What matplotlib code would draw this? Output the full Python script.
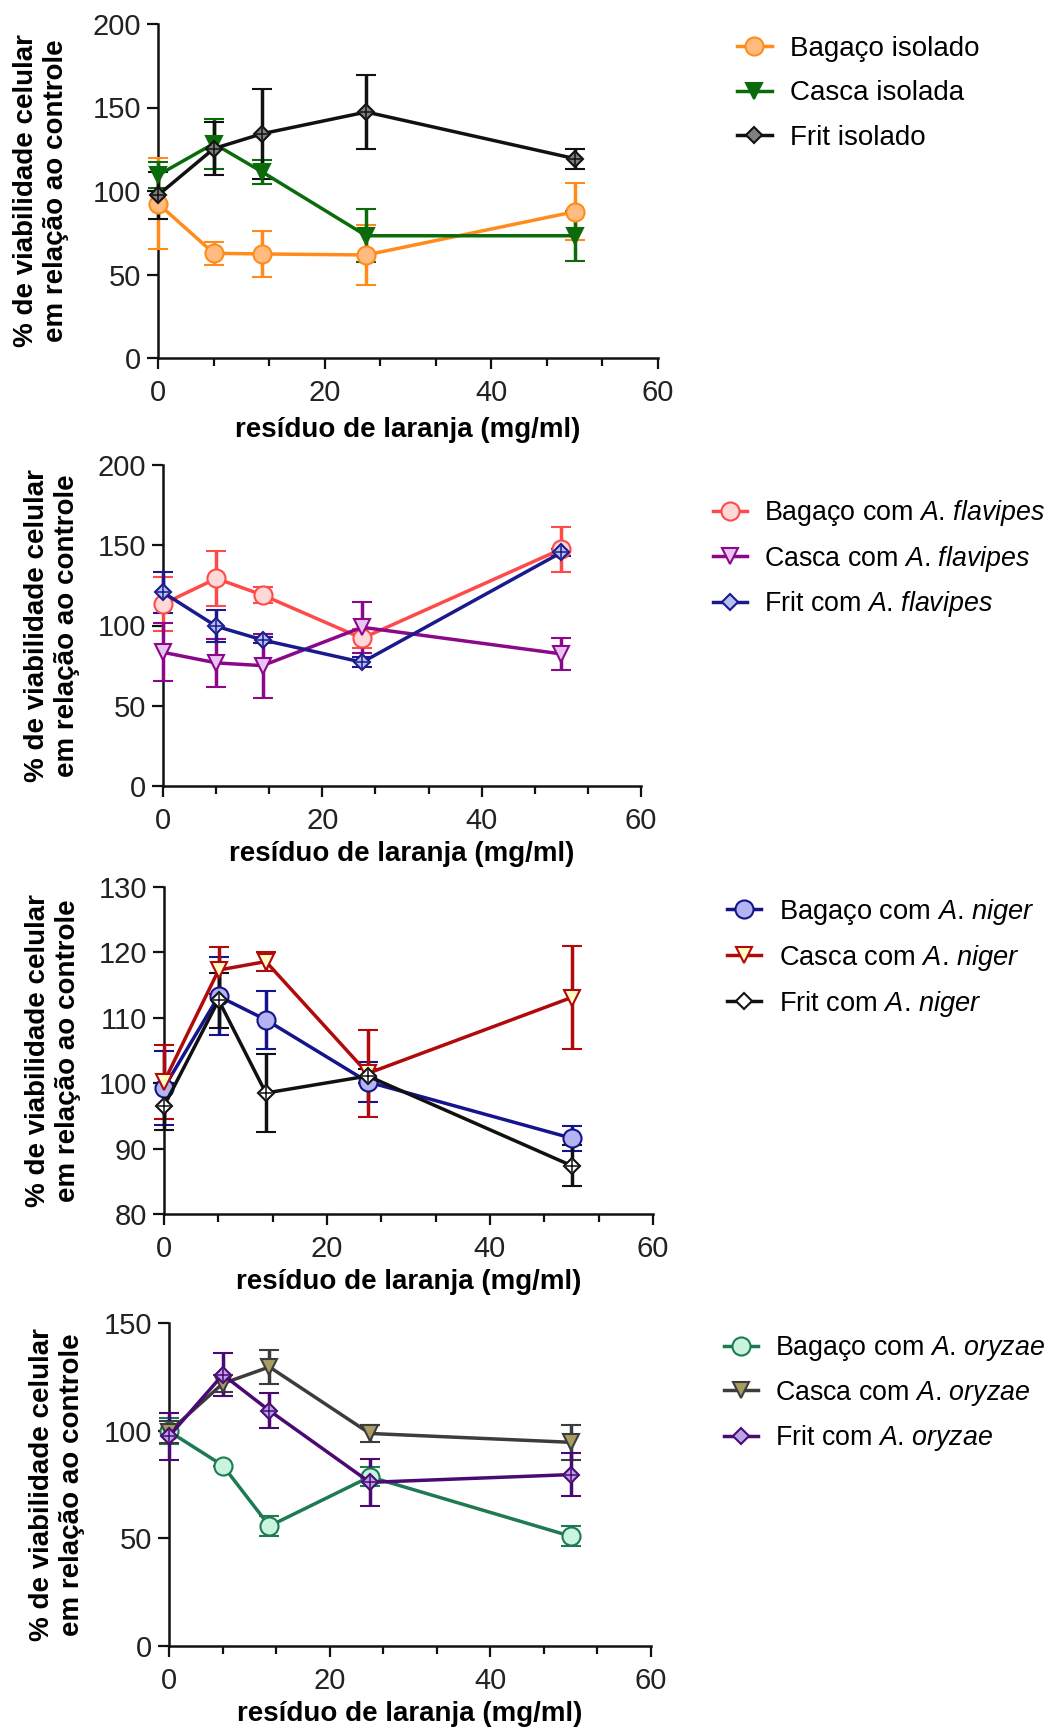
import matplotlib
matplotlib.use("Agg")
import matplotlib.pyplot as plt
from matplotlib.ticker import MultipleLocator
from matplotlib.lines import Line2D

plt.rcParams['font.family'] = ['Liberation Sans', 'DejaVu Sans']
plt.rcParams['mathtext.fontset'] = 'custom'
plt.rcParams['mathtext.rm'] = 'Liberation Sans'
plt.rcParams['mathtext.it'] = 'Liberation Sans:italic'

x = [0, 6.7, 12.5, 25, 50]

# Panel 1 - isolated
bag_iso = [92.5, 62.7, 62.3, 61.7, 87.6]
bag_iso_err = [27, 7, 14, 18, 17]
cas_iso = [109.5, 128.4, 111.4, 73.2, 73.2]
cas_iso_err = [8, 15, 7, 16, 15]
fri_iso = [97.5, 125.4, 134.3, 147.3, 119.4]
fri_iso_err = [14, 16, 27, 22, 6]

# Panel 2 - A. flavipes
bag_fla = [113.4, 129.3, 119.0, 92.0, 147.6]
bag_fla_err = [17, 17, 5, 6, 14]
cas_fla = [83.3, 76.7, 75.0, 98.9, 82.3]
cas_fla_err = [18, 15, 20, 16, 10]
fri_fla = [120.6, 99.5, 91.0, 77.1, 145.5]
fri_fla_err = [13, 10, 2, 3, 2]

# Panel 3 - A. niger
bag_nig = [99.3, 113.3, 109.7, 100.2, 91.6]
bag_nig_err = [5.7, 6, 4.4, 3, 1.9]
cas_nig = [100.2, 117.3, 118.6, 101.5, 113.1]
cas_nig_err = [5.6, 3.6, 1.5, 6.7, 7.9]
fri_nig = [96.5, 112.7, 98.5, 101.1, 87.4]
fri_nig_err = [3.6, 4.2, 6, 1, 3.1]

# Panel 4 - A. oryzae
bag_ory = [99.7, 83.8, 55.7, 78.6, 51.0]
bag_ory_err = [6, 0, 4.7, 4.5, 4.6]
cas_ory = [99.5, 121.9, 129.6, 98.7, 94.6]
cas_ory_err = [5, 4, 8, 4, 8]
fri_ory = [97.4, 126.0, 109.3, 76.0, 79.6]
fri_ory_err = [11, 10, 8, 11, 10]

xlabel = "resíduo de laranja (mg/ml)"
ylabel = "% de viabilidade celular\nem relação ao controle"

W, H = 1051, 1729
fig = plt.figure(figsize=(W / 100, H / 100), dpi=100)

def rect(l, r, t, b):
    return [l / W, 1 - b / H, (r - l) / W, (b - t) / H]

def sp(name):
    return "$\\it{A}$. $\\it{" + name + "}$"

panels = [
    dict(px=(158, 658, 24, 358), ylim=(0, 200), ystep=50, ylx=41, xly=72,
         ls=0.66, fs=20,
         series=[
             (bag_iso, bag_iso_err, 'o', '#FF8C1A', '#FFBB80', "Bagaço isolado"),
             (cas_iso, cas_iso_err, 'v', '#0B6B0B', '#0B6B0B', "Casca isolada"),
             (fri_iso, fri_iso_err, 'D', '#111111', '#808080', "Frit isolado"),
         ], leg=(737, 53)),
    dict(px=(163, 641, 465, 786), ylim=(0, 200), ystep=50, ylx=52, xly=68,
         ls=0.58, fs=19.3,
         series=[
             (bag_fla, bag_fla_err, 'o', '#FF4A4A', '#FFD8D8', "Bagaço com " + sp("flavipes")),
             (cas_fla, cas_fla_err, 'v', '#8B088B', '#E8C4F2', "Casca com " + sp("flavipes")),
             (fri_fla, fri_fla_err, 'D', '#1A1A8C', '#B8C0F0', "Frit com " + sp("flavipes")),
         ], leg=(713, 515)),
    dict(px=(164, 653, 887, 1214), ylim=(80, 130), ystep=10, ylx=53, xly=68,
         ls=0.58, fs=19.6,
         series=[
             (bag_nig, bag_nig_err, 'o', '#14148C', '#B4B4F4', "Bagaço com " + sp("niger")),
             (cas_nig, cas_nig_err, 'v', '#B00A0A', '#FFFCC4', "Casca com " + sp("niger")),
             (fri_nig, fri_nig_err, 'D', '#111111', '#FFFFFF', "Frit com " + sp("niger")),
         ], leg=(727, 914)),
    dict(px=(169, 651, 1323, 1646), ylim=(0, 150), ystep=50, ylx=57, xly=68,
         ls=0.58, fs=19.3,
         series=[
             (bag_ory, bag_ory_err, 'o', '#1E7A52', '#C8F4E0', "Bagaço com " + sp("oryzae")),
             (cas_ory, cas_ory_err, 'v', '#3C3C3C', '#A89C62', "Casca com " + sp("oryzae")),
             (fri_ory, fri_ory_err, 'D', '#4A0A72', '#B8A4E8', "Frit com " + sp("oryzae")),
         ], leg=(724, 1351)),
]

MS = {'o': 13, 'v': 12, 'D': 8}

for p in panels:
    l, r, t, b = p['px']
    ax = fig.add_axes(rect(l, r, t, b))
    handles = []
    for (y, e, m, c, fc, lab) in p['series']:
        ms = MS[m]
        ax.errorbar(x, y, yerr=e, color=c, lw=2.5, marker=m, ms=ms,
                    mfc=fc, mec=c, mew=1.5, capsize=7, capthick=2.5,
                    elinewidth=2.5, clip_on=False, zorder=3)
        if m == 'D':
            ax.plot(x, y, ls='none', marker='+', ms=ms * 1.1, color=c,
                    mew=1.1, zorder=4, clip_on=False)
        handles.append(Line2D([], [], color=c, lw=2.5, marker=m, ms=ms,
                              mfc=fc, mec=c, mew=1.5, label=lab))
    ax.set_xlim(0, 60)
    ax.set_ylim(*p['ylim'])
    ax.xaxis.set_major_locator(MultipleLocator(20))
    ax.xaxis.set_minor_locator(MultipleLocator(20 / 3))
    ax.yaxis.set_major_locator(MultipleLocator(p['ystep']))
    for s in ['top', 'right']:
        ax.spines[s].set_visible(False)
    for s in ['left', 'bottom']:
        ax.spines[s].set_linewidth(1.8)
        ax.spines[s].set_color('#111111')
    ax.tick_params(axis='both', which='major', length=8, width=1.6,
                   labelsize=21, colors='#111111', pad=4)
    ax.tick_params(axis='x', which='minor', length=6, width=1.6, colors='#111111')
    ax.tick_params(axis='x', pad=7)
    for tl in ax.get_xticklabels() + ax.get_yticklabels():
        tl.set_color('#222222')
    ax.set_xlabel(xlabel, fontsize=20, fontweight='bold')
    ax.xaxis.label.set_va('center')
    ax.xaxis.set_label_coords(0.5, -p['xly'] / (b - t))
    ax.set_ylabel(ylabel, fontsize=20, fontweight='bold', linespacing=1.2)
    ax.yaxis.label.set_va('center')
    ax.yaxis.set_label_coords((p['ylx'] - l) / (r - l), 0.5)
    lx, ly = p['leg']
    ax.legend(handles=handles, loc='upper left',
              bbox_to_anchor=(lx / W, 1 - (ly - 17) / H),
              bbox_transform=fig.transFigure,
              frameon=False, fontsize=p['fs'], handlelength=1.25,
              handletextpad=0.65, labelspacing=p['ls'], borderaxespad=0,
              borderpad=0)

fig.savefig("out.png", dpi=100)
